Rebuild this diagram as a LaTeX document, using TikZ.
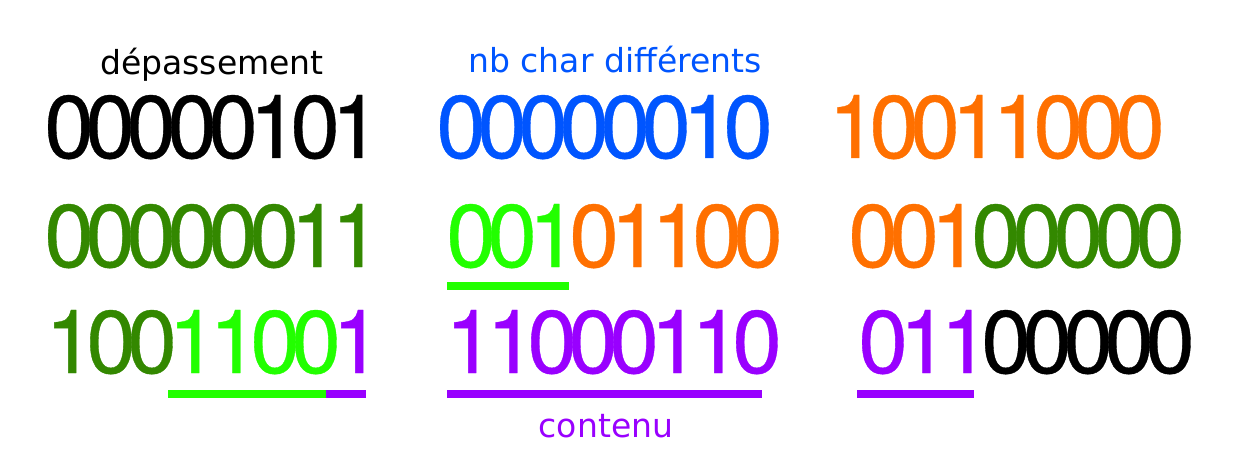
\documentclass[tikz,border=0pt]{standalone}
\usepackage{fontspec}
\newfontfamily\bitfont[LetterSpace=-9.5,FakeBold=0.4]{TeX Gyre Heros}
\newfontfamily\lblfont{DejaVu Sans}
\newcommand\tight{\kern-4.8pt}
\definecolor{bitblue}{RGB}{0,85,255}
\definecolor{bitorange}{RGB}{255,112,0}
\definecolor{darkgreen}{RGB}{51,136,0}
\definecolor{lightgreen}{RGB}{34,255,0}
\definecolor{bitpurple}{RGB}{153,0,255}
\begin{document}
\begin{tikzpicture}[
  bits/.style={anchor=base west,inner sep=0pt,font=\bitfont\fontsize{50.6}{60}\selectfont},
  lbl/.style={anchor=base,inner sep=0pt,font=\lblfont\fontsize{18.8}{22}\selectfont},
  ul/.style={line width=4pt}]
  \useasboundingbox (0,0) rectangle (25,9.06);
  % labels
  \node[lbl] (over) at (4.24,7.56) {dépassement};
  \node[lbl,text=bitblue] (nbchar) at (12.30,7.60) {nb char différents};
  \node[lbl,text=bitpurple] (content) at (12.12,0.32) {contenu};
  % first row
  \node[bits] (b11) at (0.88,5.90) {00000101};
  \node[bits,text=bitblue] (b12) at (8.72,5.90) {00000010};
  \node[bits,text=bitorange] (b13) at (16.56,5.90) {10011000};
  % second row
  \node[bits,text=darkgreen] (b21) at (0.88,3.72) {00000011};
  \node[bits] (b22) at (8.92,3.72)
  {\textcolor{lightgreen}{001}\tight\textcolor{bitorange}{01100}};
  \node[bits] (b23) at (16.96,3.72)
  {\textcolor{bitorange}{001}\tight\textcolor{darkgreen}{00000}};
  % third row
  \node[bits] (b31) at (0.90,1.60)
  {\textcolor{darkgreen}{100}\tight\textcolor{lightgreen}{1100}\tight\textcolor{bitpurple}{1}};
  \node[bits,text=bitpurple] (b32) at (8.90,1.60) {11000110};
  \node[bits] (b33) at (17.16,1.60)
  {\textcolor{bitpurple}{011}\tight00000};
  % underlines
  \draw[ul,lightgreen] (3.36,1.18)--(6.52,1.18);
  \draw[ul,bitpurple] (6.52,1.18)--(7.32,1.18);
  \draw[ul,lightgreen] (8.94,3.34)--(11.38,3.34);
  \draw[ul,bitpurple] (8.94,1.18)--(15.24,1.18);
  \draw[ul,bitpurple] (17.14,1.18)--(19.48,1.18);
\end{tikzpicture}
\end{document}
